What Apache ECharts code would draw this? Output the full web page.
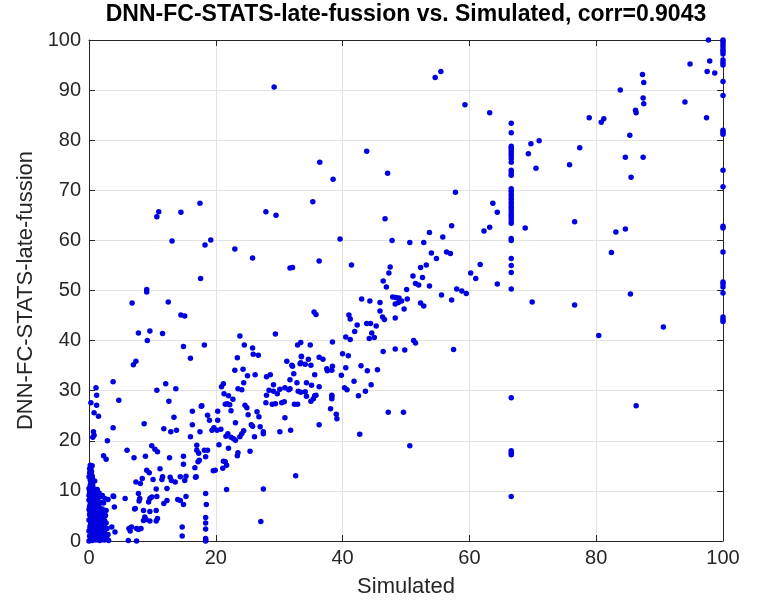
<!DOCTYPE html>
<html>
<head>
<meta charset="utf-8">
<script src="https://cdn.jsdelivr.net/npm/echarts@6/dist/echarts.min.js"></script>
<style>html,body{margin:0;padding:0;background:#fff}#c{width:779px;height:603px}</style>
</head>
<body>
<div id="c"></div>
<script>
// ---- DATA (Simulated, DNN-FC-STATS-late-fussion) ----
const titleText = "DNN-FC-STATS-late-fussion vs. Simulated, corr=0.9043";
const xName = "Simulated";
const yName = "DNN-FC-STATS-late-fussion";
const xTicks = [0, 20, 40, 60, 80, 100];
const yTicks = [0, 10, 20, 30, 40, 50, 60, 70, 80, 90, 100];

const nearZeroSparse = [[1.1,30.6],[1.2,29.1],[0.3,27.6],[1.2,27.1],[0.8,25.6],[1.5,24.9],[3.8,31.8],[4.7,28.1],[0.7,21.8],[0.8,21.1],[0.6,20.7],[2.9,20.0],[3.8,22.6],[2.3,17.0],[2.7,16.3],[0.2,15.1],[0.3,14.1],[0.4,13.1],[0.5,12.5],[0.6,11.8],[0.8,10.3],[1.3,10.3],[0,10.5],[0,9.1],[3.9,8.9],[4.0,6.8],[2.7,6.1],[2.6,5.1],[3.6,2.8],[4.1,1.8]];

const nearZeroDense = [[0,0],[0.2,0.3],[0.5,0.1],[0.8,0.4],[1.1,0.2],[1.4,0.5],[1.7,0.1],[2.0,0.3],[2.4,0.2],[2.8,0.4],[3.1,0.1],
[0.1,1.0],[0.4,1.3],[0.7,0.9],[1.0,1.5],[1.3,1.1],[1.6,1.4],[1.9,0.9],[2.2,1.2],[2.6,1.0],[3.0,1.3],
[0,2.0],[0.3,2.4],[0.6,2.1],[0.9,2.6],[1.2,2.2],[1.5,2.5],[1.8,2.0],[2.1,2.7],[2.5,2.3],
[0.2,3.1],[0.5,3.4],[0.8,3.0],[1.1,3.6],[1.4,3.2],[1.7,3.5],[2.0,3.9],[2.3,3.3],[2.7,3.6],
[0,4.2],[0.3,4.5],[0.6,4.1],[0.9,4.8],[1.2,4.4],[1.5,4.9],[1.9,4.3],[2.2,4.6],
[0.1,5.3],[0.4,5.6],[0.7,5.1],[1.0,5.8],[1.3,5.4],[1.7,5.7],[2.0,5.2],
[0,6.3],[0.3,6.6],[0.6,6.2],[0.9,6.9],[1.2,6.5],[1.6,6.8],[2.1,6.4],
[0.2,7.3],[0.5,7.7],[0.8,7.2],[1.1,7.9],[1.5,7.5],[2.3,7.6],
[0,8.2],[0.4,8.6],[0.7,8.1],[1.0,8.8],[1.4,8.4],[1.8,8.9],[2.5,8.5],[3.0,8.3],
[0.1,9.5],[0.5,9.8],[0.9,9.3],[1.6,9.6],[2.1,9.1],
[0.2,11.2],[0.9,12.0],[0.1,13.6],[0.3,14.6],[0,12.8],[0.6,11.0],
[0.35,0.7],[0.65,1.7],[0.95,0.6],[1.25,1.8],[1.55,0.8],[1.85,1.7],[2.15,0.6],[2.45,1.6],[2.75,0.7],
[0.15,2.7],[0.45,2.9],[0.75,2.5],[1.05,2.9],[1.35,2.7],[1.65,2.9],[1.95,2.6],[2.35,2.8],[2.85,2.5],
[0.25,3.8],[0.55,4.0],[0.85,3.8],[1.15,4.1],[1.45,3.8],[1.75,4.0],[2.05,4.5],[2.45,4.1],
[0.2,5.0],[0.5,5.2],[0.85,5.4],[1.15,5.1],[1.45,5.9],[1.85,5.4],[2.3,5.7],
[0.15,5.9],[0.45,6.1],[0.75,6.5],[1.05,6.2],[1.4,6.1],[1.85,6.1],
[0.1,6.9],[0.35,7.1],[0.65,7.5],[0.95,7.4],[1.3,7.2],[1.9,7.7],
[0.2,7.9],[0.55,8.2],[0.85,8.4],[1.2,8.1],[0.3,9.0],[0.7,9.6],[1.2,9.2],
[0.1,10.0],[0.4,10.6],[0.3,11.6],[0.5,12.9],[0.2,12.2],[0.4,13.8],[0.1,14.4],[0.5,15.0]];

const lowBand = [[6.8,47.5],[9.1,49.7],[9.1,50.2],[12.5,47.7],[14.5,45.1],[15.1,44.9],[7.8,41.5],[9.6,41.9],[9.2,40.0],[11.6,41.4],[14.9,38.8],[18.2,39.1],[16.0,36.5],[7.4,35.9],[7.0,35.2],[10.7,30.1],[12.1,31.4],[13.7,30.4],[12.6,27.9],[8.7,23.4],[13.4,24.7],[11.8,22.4],[12.9,21.8],[13.8,22.1],[16.3,25.9],[16.3,23.2],[17.8,27.0],[18.7,25.1],[19.0,24.1],[20.3,25.9],[20.3,24.1],[16.0,20.8],[17.5,21.8],[6.0,18.1],[7.1,16.6],[9.9,19.0],[10.4,18.3],[10.8,17.8],[8.9,16.9],[9.1,14.1],[9.5,13.6],[11.2,14.4],[11.5,12.3],[11.6,12.8],[12.7,16.6],[14.9,16.9],[14.9,15.3],[17.0,19.1],[17.0,18.1],[17.3,17.5],[17.2,15.8],[18.2,18.1],[18.7,18.1],[18.4,16.8],[19.6,14.0],[19.9,14.1],[21.1,14.5],[21.5,15.8],[7.4,11.8],[8.4,12.5],[8.1,11.5],[10.1,12.3],[12.8,12.7],[13.0,12.1],[13.6,11.8],[14.4,12.8],[15.1,12.1],[15.3,12.9],[16.8,12.7],[12.3,10.5],[10.6,10.4],[21.7,10.3],[27.5,10.4],[3.8,9.0],[5.7,8.5],[7.8,9.5],[8.0,8.5],[7.9,8.0],[9.6,8.5],[9.9,8.8],[9.4,7.8],[10.7,8.9],[11.8,7.5],[12.3,8.1],[14.0,8.3],[14.4,8.1],[15.3,8.9],[14.9,7.3],[18.4,9.5],[18.5,7.3],[7.2,6.4],[8.6,6.1],[9.6,5.9],[10.6,6.1],[8.8,4.8],[8.6,4.1],[9.0,4.3],[9.6,4.0],[10.8,4.5],[10.6,4.0],[7.3,6.5],[6.3,2.5],[6.7,2.8],[7.5,2.5],[8.2,2.5],[6.5,2.0],[7.8,2.3],[6.2,0.1],[7.5,0.0],[14.7,2.8],[14.7,1.0],[18.4,4.7],[18.4,3.6],[18.4,2.4],[18.4,0.5],[18.4,0.1],[18.4,0],[27.1,3.9],[16.7,14.6],[16.9,12.8],[17.4,16.1],[21.2,15.9],[21.7,15.1],
[17.5,67.4],[11.0,65.7],[10.7,64.7],[14.5,65.6],[13.1,59.9],[18.3,59.1],[19.2,60.1],[17.6,52.4],[23.0,58.3],[25.8,56.5],[27.9,65.7],[29.5,65.0],[29.2,90.6],[31.7,54.5],[32.1,54.6]];

const midBand = [[23.8,40.9],[29.4,41.3],[24.5,39.1],[25.8,38.5],[25.9,37.3],[26.7,37.1],[23.4,36.6],[23.0,34.1],[24.3,34.3],[25.0,33.0],[26.2,33.2],[20.9,30.8],[21.2,31.4],[24.4,31.6],[23.5,30.4],[24.1,30.2],[21.3,29.4],[22.0,29.0],[22.7,28.3],[21.8,27.4],[21.5,27.3],[22.2,27.2],[24.6,27.1],[24.9,26.6],[25.1,25.2],[26.5,25.8],[26.8,24.8],[22.4,26.0],[23.1,23.6],[25.6,23.2],[17.7,26.9],[19.4,22.1],[19.7,22.6],[20.2,22.1],[20.8,22.3],[20.5,19.2],[22.0,18.5],[25.8,22.9],[27.0,22.8],[27.5,21.4],[27.5,21.8],[26.1,20.8],[21.9,21.4],[21.6,20.9],[22.4,20.7],[23.1,20.1],[22.8,20.4],[23.8,20.8],[24.1,21.4],[24.4,22.0],[23.5,17.6],[23.4,17.0],[25.4,17.9],
[28.0,32.8],[28.6,33.2],[29.1,31.2],[28.4,30.1],[29.1,29.9],[29.7,29.4],[28.0,29.1],[27.9,27.6],[28.9,27.3],[29.4,27.4],[30.4,27.6],[30.8,27.8],[30.1,30.3],[30.9,30.6],[31.5,30.2],[31.2,35.9],[32.0,35.1],[32.3,33.4],[31.7,32.2],[32.8,31.6],[33.3,35.4],[33.5,36.9],[33.4,39.6],[34.9,39.1],[32.9,39.1]];

const upperBand = [[34.1,35.3],[35.0,35.1],[34.3,31.6],[35.1,31.1],[36.3,30.8],[33.4,29.7],[34.1,29.8],[35.0,27.9],[35.4,28.4],[35.8,29.1],[35.6,33.2],[36.3,36.7],[36.9,36.3],[37.5,34.4],[38.3,34.1],[38.4,39.7],[38.1,26.4],[38.3,28.8],[32.4,27.3],[32.9,27.3],[30.9,24.6],[30.1,21.8],[31.8,22.1],[36.3,23.2],[33.5,36.8],[34.6,36.3],[33.4,35.6],[37.6,34.0],[38.4,34.9],[40.5,34.6],[42.9,35.0],[43.9,34.0],[45.5,34.2],[32.1,34.9],[39.8,33.1],[41.8,31.9],[40.3,30.6],[40.7,30.2],[44.5,31.2],[43.6,29.9],[42.5,29.0],[31.7,30.4],[33.0,29.9],[34.3,28.9],[35.6,29.0],[38.3,29.1],[38.3,28.4],[39.0,25.3],[39.1,24.4],[47.2,25.7],[49.6,25.7],[42.7,21.3],[50.6,19.0],[32.6,13.0],[40.0,37.4],[40.9,37.0],[46.4,37.8],[48.3,38.3],[49.8,38.1],[51.2,40.0],[51.5,39.5],[57.5,38.2],[40.5,40.7],[41.2,40.2],[41.9,41.8],[44.6,41.5],[45.0,40.6],[44.2,40.4],[43.8,43.4],[44.4,43.4],[45.3,42.9],[42.3,43.1],[41.0,45.1],[41.2,44.3],[46.3,44.7],[46.6,44.2],[48.3,44.5],[35.5,45.7],[35.8,45.2],[45.9,45.9],[49.7,46.3],[52.3,47.5],[52.8,46.9],[43.0,48.3],[44.3,47.9],[45.9,47.6],[47.9,48.7],[48.4,48.6],[48.9,48.5],[49.3,47.9],[48.3,47.3],[48.8,47.6],[50.1,50.2],[50.2,48.3],[55.6,49.1],[57.2,48.1],[58.0,50.3],[58.8,49.9],[59.5,49.4],[46.4,51.9],[46.9,50.7],[51.5,51.4],[52.0,51.1],[53.7,50.9],[61.0,52.4],[60.2,53.5],[61.7,55.2],[64.4,51.3],[51.1,52.9],[52.6,52.6],[47.5,54.7],[47.3,53.5],[52.3,54.6],[53.2,55.1],[36.3,55.9],[41.4,55.1],[54.0,57.5],[54.8,56.4],[56.4,57.7],[57.0,57.4],[39.6,60.3],[47.8,60.0],[50.6,59.6],[52.8,59.6],[55.8,60.7],[53.7,61.6],[57.2,62.9],[63.2,62.6],[62.3,61.9],[46.7,64.3],[35.3,67.7],[63.7,67.4],[64.4,65.6],[57.8,69.6],[38.5,72.2],[47.1,73.4],[36.4,75.6],[43.8,77.8],[59.3,87.1],[63.2,85.5],[54.6,92.5],[55.5,93.7]];

const col66x = 66.6;
const col66y = [83.4,81.5,78.8,78.4,77.9,77.4,76.9,76.3,75.6,74.0,73.5,73.0,70.3,69.8,69.2,68.7,68.2,67.6,67.1,66.6,66.1,65.5,65.0,64.5,63.9,63.4,60.4,60.0,56.4,55.0,53.6,50.3,28.6,18.0,17.6,17.2,8.9];

const highBand = [[68.8,62.5],[76.6,63.7],[70.5,74.4],[69.3,77.3],[69.7,79.3],[71.0,79.9],[75.8,75.1],[77.4,78.5],[78.9,84.5],[80.8,83.6],[81.2,84.3],[83.8,90.0],[85.3,81.0],[84.6,76.6],[85.5,72.6],[87.4,76.6],[86.2,86.0],[86.3,85.5],[87.4,88.4],[87.5,87.3],[87.3,93.1],[87.5,91.5],[82.4,57.6],[83.1,61.7],[84.6,62.3],[94.0,87.6],[94.8,95.2],[97.4,84.5],[97.5,93.7],[97.9,95.8],[98.7,93.4],[97.7,100],[69.9,47.7],[76.6,47.1],[80.4,41.0],[85.4,49.3],[90.6,42.7],[86.3,27.0]];

const col100x = 100;
const col100y = [100,99.7,99.2,98.7,98.1,97.7,97.2,96.0,95.5,95.0,91.7,88.9,82.0,81.6,81.2,74.0,70.7,62.8,62.5,57.7,51.7,51.3,50.7,49.5,44.7,44.2,43.8];

// ---- build ----
const points = [].concat(
  nearZeroSparse, nearZeroDense, lowBand, midBand, upperBand, highBand,
  col66y.map(v => [col66x, v]),
  col100y.map(v => [col100x, v])
);

const FONT = '"Liberation Sans", Arial, Helvetica, sans-serif';
const AX = '#262626';
const chart = echarts.init(document.getElementById('c'), null, {renderer: 'canvas'});
chart.setOption({
  animation: false,
  backgroundColor: '#ffffff',
  textStyle: {fontFamily: FONT},
  grid: {left: 89, right: 56, top: 40, bottom: 62, containLabel: false},
  graphic: [{
    type: 'text', x: 406, y: 3, z: 100,
    style: {text: titleText, font: 'bold 23px ' + FONT, fill: '#000', textAlign: 'center', textVerticalAlign: 'top'}
  }],
  xAxis: [{
    type: 'value', min: 0, max: 100, interval: 20, position: 'bottom',
    name: xName, nameLocation: 'middle', nameGap: 35,
    nameTextStyle: {fontSize: 22, color: AX, fontFamily: FONT},
    axisLine: {show: true, onZero: false, lineStyle: {color: AX, width: 1}},
    axisTick: {show: true, inside: true, length: 6, lineStyle: {color: AX}},
    axisLabel: {fontSize: 20, color: AX, margin: 7, fontFamily: FONT},
    splitLine: {show: true, lineStyle: {color: '#e3e3e3', width: 1}}
  }, {
    type: 'value', min: 0, max: 100, interval: 20, position: 'top',
    axisLine: {show: true, onZero: false, lineStyle: {color: AX, width: 1}},
    axisTick: {show: true, inside: true, length: 6, lineStyle: {color: AX}},
    axisLabel: {show: false}, splitLine: {show: false}
  }],
  yAxis: [{
    type: 'value', min: 0, max: 100, interval: 10, position: 'left',
    name: yName, nameLocation: 'middle', nameGap: 47, nameRotate: 90,
    nameTextStyle: {fontSize: 22, color: AX, fontFamily: FONT},
    axisLine: {show: true, onZero: false, lineStyle: {color: AX, width: 1}},
    axisTick: {show: true, inside: true, length: 6, lineStyle: {color: AX}},
    axisLabel: {fontSize: 20, color: AX, margin: 8, fontFamily: FONT},
    splitLine: {show: true, lineStyle: {color: '#e3e3e3', width: 1}}
  }, {
    type: 'value', min: 0, max: 100, interval: 10, position: 'right',
    axisLine: {show: true, onZero: false, lineStyle: {color: AX, width: 1}},
    axisTick: {show: true, inside: true, length: 6, lineStyle: {color: AX}},
    axisLabel: {show: false}, splitLine: {show: false}
  }],
  series: [{
    type: 'scatter', xAxisIndex: 0, yAxisIndex: 0,
    data: points, symbol: 'circle', symbolSize: 5.5, clip: false,
    itemStyle: {color: '#0000e0', opacity: 1},
    z: 5
  }]
});
</script>
</body>
</html>
